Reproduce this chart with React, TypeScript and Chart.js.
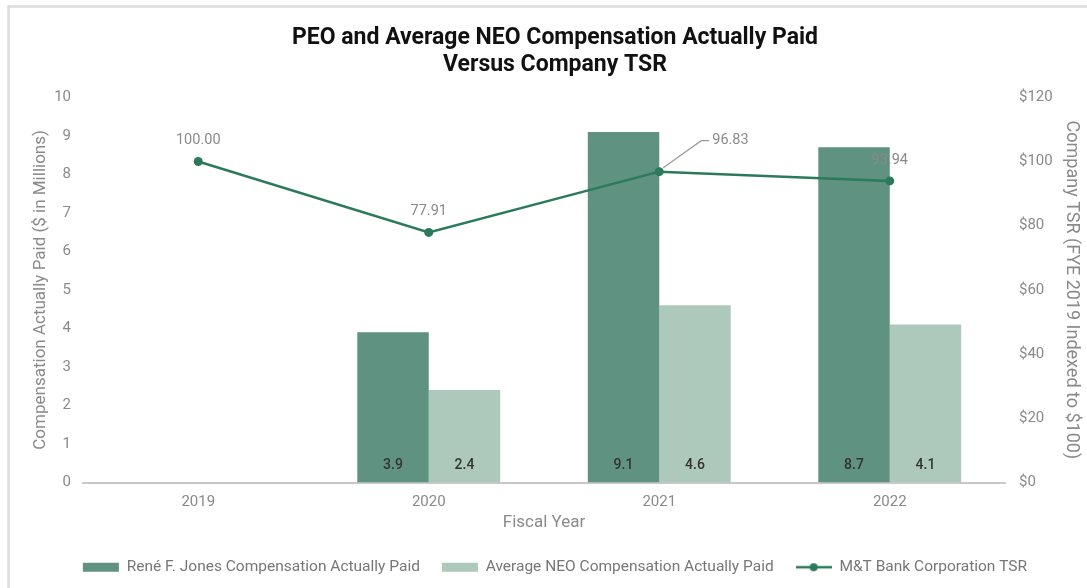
import React, { useEffect, useRef } from "react";
import { Chart, registerables } from "chart.js";

Chart.register(...registerables);

const years = ["2019", "2020", "2021", "2022"];
const peoComp: (number | null)[] = [null, 3.9, 9.1, 8.7];
const neoComp: (number | null)[] = [null, 2.4, 4.6, 4.1];
const tsr = [100.0, 77.91, 96.83, 93.94];

const leftTicks = { min: 0, max: 10, step: 1 };
const rightTicks = { min: 0, max: 120, step: 20 };

const DARK = "#5f9281";
const LIGHT = "#adc9bc";
const LINE = "#2b7a5b";
const GRAY = "#8a8a8a";
const FONT = "Roboto, 'Liberation Sans', sans-serif";

function makeLineIcon(): HTMLCanvasElement {
  const c = document.createElement("canvas");
  c.width = 36;
  c.height = 12;
  const g = c.getContext("2d")!;
  g.strokeStyle = LINE;
  g.lineWidth = 2.5;
  g.beginPath();
  g.moveTo(0, 6);
  g.lineTo(36, 6);
  g.stroke();
  g.fillStyle = LINE;
  g.beginPath();
  g.arc(18, 6, 4, 0, Math.PI * 2);
  g.fill();
  return c;
}

const framePlugin = {
  id: "frame",
  beforeDraw(chart: any) {
    const ctx = chart.ctx;
    ctx.save();
    ctx.fillStyle = "#ffffff";
    ctx.fillRect(0, 0, chart.width, chart.height);
    ctx.strokeStyle = "#dcdcdc";
    ctx.lineWidth = 2.5;
    ctx.beginPath();
    ctx.moveTo(8.5, chart.height);
    ctx.lineTo(8.5, 6.5);
    ctx.lineTo(chart.width, 6.5);
    ctx.stroke();
    ctx.restore();
  },
};

const labelsPlugin = {
  id: "valueLabels",
  afterDatasetsDraw(chart: any) {
    const ctx = chart.ctx;
    ctx.save();
    ctx.textAlign = "center";
    ctx.textBaseline = "middle";
    [0, 1].forEach((di) => {
      const meta = chart.getDatasetMeta(di);
      const data = chart.data.datasets[di].data;
      meta.data.forEach((el: any, i: number) => {
        const v = data[i];
        if (v == null) return;
        ctx.fillStyle = "#333333";
        ctx.font = `500 14px ${FONT}`;
        ctx.fillText(Number(v).toFixed(1), el.x, el.base - 17);
      });
    });
    const meta = chart.getDatasetMeta(2);
    const data = chart.data.datasets[2].data;
    meta.data.forEach((el: any, i: number) => {
      const v = data[i];
      ctx.font = `14.5px ${FONT}`;
      ctx.fillStyle = GRAY;
      if (i === 2) {
        ctx.strokeStyle = "#9a9a9a";
        ctx.lineWidth = 1.2;
        ctx.beginPath();
        ctx.moveTo(el.x + 4, el.y - 4);
        ctx.lineTo(el.x + 42, el.y - 31);
        ctx.lineTo(el.x + 50, el.y - 31);
        ctx.stroke();
        ctx.textAlign = "left";
        ctx.fillText(Number(v).toFixed(2), el.x + 53, el.y - 31);
        ctx.textAlign = "center";
      } else {
        ctx.fillText(Number(v).toFixed(2), el.x, el.y - 21);
      }
    });
    ctx.restore();
  },
};

export default function App() {
  const ref = useRef<HTMLCanvasElement | null>(null);
  useEffect(() => {
    if (!ref.current) return;
    const lineIcon = makeLineIcon();
    const chart = new Chart(ref.current, {
      type: "bar",
      data: {
        labels: years,
        datasets: [
          {
            type: "bar",
            label: "René F. Jones Compensation Actually Paid",
            data: peoComp,
            backgroundColor: DARK,
            yAxisID: "y",
            order: 1,
            pointStyle: "rect",
            categoryPercentage: 0.62,
            barPercentage: 1.0,
          } as any,
          {
            type: "bar",
            label: "Average NEO Compensation Actually Paid",
            data: neoComp,
            backgroundColor: LIGHT,
            yAxisID: "y",
            order: 1,
            pointStyle: "rect",
            categoryPercentage: 0.62,
            barPercentage: 1.0,
          } as any,
          {
            type: "line",
            label: "M&T Bank Corporation TSR",
            data: tsr,
            borderColor: LINE,
            backgroundColor: LINE,
            borderWidth: 2.5,
            pointRadius: 4.5,
            pointBackgroundColor: LINE,
            pointBorderWidth: 0,
            yAxisID: "y1",
            order: 0,
            tension: 0,
          } as any,
        ],
      },
      options: {
        responsive: false,
        animation: false,
        layout: { padding: { left: 27, right: 4, top: 4, bottom: 3 } },
        plugins: {
          title: {
            display: true,
            text: ["PEO and Average NEO Compensation Actually Paid", "Versus Company TSR"],
            color: "#111111",
            font: { family: FONT, size: 23, weight: "bold", lineHeight: 1.18 },
            padding: { top: 21, bottom: 18 },
          },
          legend: {
            display: true,
            position: "bottom",
            labels: {
              usePointStyle: true,
              pointStyleWidth: 36,
              boxHeight: 9,
              padding: 22,
              color: "#777777",
              font: { family: FONT, size: 15.5 },
              sort: (a: any, b: any) => a.datasetIndex - b.datasetIndex,
              generateLabels: (c: any) => {
                const items = (Chart.defaults.plugins.legend.labels as any).generateLabels(c);
                items.forEach((it: any) => {
                  if (it.datasetIndex === 2) {
                    it.pointStyle = lineIcon;
                  } else {
                    it.pointStyle = "rect";
                    it.lineWidth = 0;
                  }
                });
                return items;
              },
            },
          },
          tooltip: { enabled: false },
        },
        scales: {
          x: {
            grid: { display: false, drawTicks: false },
            border: { display: true, color: "#c8c8c8", width: 2 },
            ticks: { color: GRAY, font: { family: FONT, size: 15 }, padding: 11 },
            title: {
              display: true,
              text: "Fiscal Year",
              color: GRAY,
              font: { family: FONT, size: 17 },
              padding: { top: 0, bottom: 5 },
            },
            afterFit: (s: any) => {
              s.height = 55;
            },
          },
          y: {
            position: "left",
            min: leftTicks.min,
            max: leftTicks.max,
            grid: { display: false, drawTicks: false },
            border: { display: false },
            ticks: {
              stepSize: leftTicks.step,
              color: GRAY,
              font: { family: FONT, size: 15 },
              padding: 12,
            },
            title: {
              display: true,
              text: "Compensation Actually Paid ($ in Millions)",
              color: GRAY,
              font: { family: FONT, size: 17 },
              padding: { top: 4, bottom: 0 },
            },
            afterFit: (s: any) => {
              s.width = 56;
            },
          },
          y1: {
            position: "right",
            min: rightTicks.min,
            max: rightTicks.max,
            grid: { display: false, drawTicks: false },
            border: { display: false },
            ticks: {
              stepSize: rightTicks.step,
              color: GRAY,
              font: { family: FONT, size: 15 },
              padding: 14,
              callback: (v: any) => "$" + v,
            },
            title: {
              display: true,
              text: "Company TSR (FYE 2019 Indexed to $100)",
              color: GRAY,
              font: { family: FONT, size: 18 },
              padding: { top: 1, bottom: 1 },
            },
            afterFit: (s: any) => {
              s.width = 78;
            },
          },
        },
      } as any,
      plugins: [framePlugin, labelsPlugin],
    });
    return () => chart.destroy();
  }, []);

  return (
    <div style={{ position: "fixed", left: 0, top: 0, width: 1087, height: 588 }}>
      <canvas ref={ref} width={1087} height={588} />
    </div>
  );
}
